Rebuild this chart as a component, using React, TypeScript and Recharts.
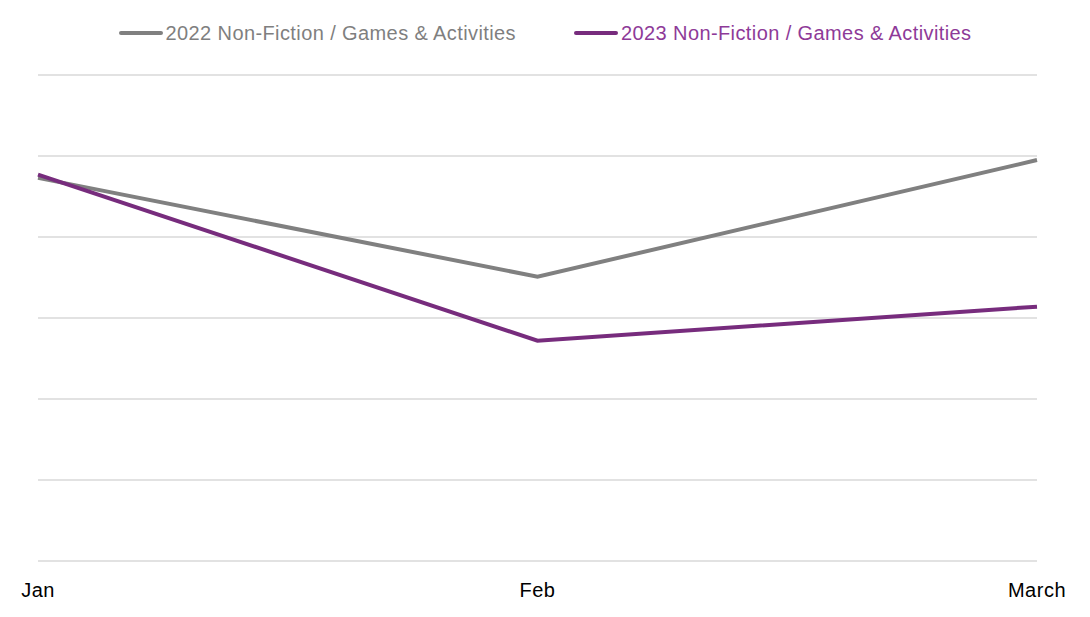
import React from 'react';
import { LineChart, Line, XAxis, YAxis, CartesianGrid, Legend } from 'recharts';

// Months on the category axis
const months = ['Jan', 'Feb', 'March'];

// Series values (gridline units)
const sales2022 = [4.73, 3.51, 4.95];
const sales2023 = [4.77, 2.72, 3.14];

const yTicks = [0, 1, 2, 3, 4, 5, 6];

const seriesInfo = [
  { key: 'y2022', name: '2022 Non-Fiction / Games & Activities', line: '#808080', text: '#7f7f7f' },
  { key: 'y2023', name: '2023 Non-Fiction / Games & Activities', line: '#772c7d', text: '#8e3a98' },
];

const data = months.map((m, i) => ({
  month: m,
  y2022: sales2022[i],
  y2023: sales2023[i],
}));

const FONT = '"Liberation Sans", Arial, sans-serif';

const CustomLegend = () => (
  <div
    style={{
      display: 'flex',
      justifyContent: 'center',
      alignItems: 'center',
      gap: 58,
      height: 40,
      fontFamily: FONT,
      fontSize: 20,
      letterSpacing: 0.4,
    }}
  >
    {seriesInfo.map((s) => (
      <div key={s.key} style={{ display: 'flex', alignItems: 'center', gap: 3 }}>
        <span
          style={{
            display: 'inline-block',
            width: 44,
            height: 4,
            borderRadius: 2,
            background: s.line,
          }}
        />
        <span style={{ color: s.text }}>{s.name}</span>
      </div>
    ))}
  </div>
);

export default function App() {
  return (
    <div style={{ position: 'absolute', left: 0, top: 0, width: 1090, height: 617, background: '#fff' }}>
      <LineChart
        width={1090}
        height={617}
        data={data}
        margin={{ top: 35, right: 53, left: 38, bottom: 16 }}
      >
        <CartesianGrid vertical={false} stroke="#d9d9d9" strokeWidth={1.5} />
        <XAxis
          dataKey="month"
          axisLine={false}
          tickLine={false}
          height={40}
          tickMargin={16}
          interval={0}
          tick={{ fontSize: 20, fill: '#000', fontFamily: FONT, letterSpacing: 0.5 }}
        />
        <YAxis hide domain={[0, 6]} ticks={yTicks} />
        <Legend
          verticalAlign="top"
          content={<CustomLegend />}
          wrapperStyle={{ top: 13, left: 0, width: 1090 }}
        />
        {seriesInfo.map((s) => (
          <Line
            key={s.key}
            type="linear"
            dataKey={s.key}
            name={s.name}
            stroke={s.line}
            strokeWidth={4}
            dot={false}
            activeDot={false}
            isAnimationActive={false}
          />
        ))}
      </LineChart>
    </div>
  );
}
